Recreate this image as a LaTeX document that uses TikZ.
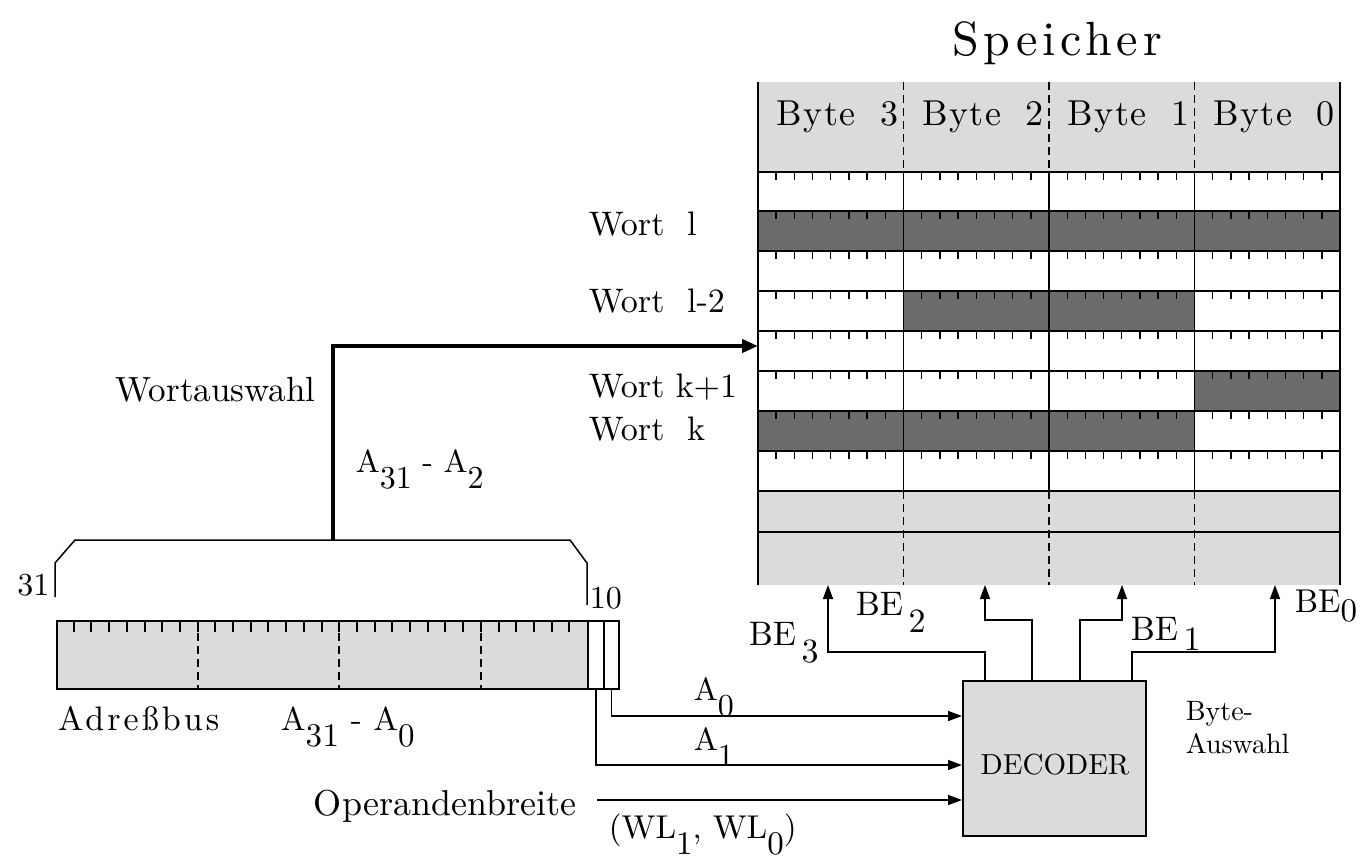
\documentclass[tikz,border=0pt]{standalone}
\usepackage{fontspec}
\setmainfont{lmroman10-regular.otf}
\usetikzlibrary{arrows.meta,calc}
\definecolor{lightdot}{gray}{0.86}
\definecolor{darkdot}{gray}{0.42}
\newcommand\lo[1]{\raisebox{-0.5em}{#1}}
\tikzset{
  lbl/.style={inner sep=0pt, font=\fontsize{34}{38}\selectfont},
  mid/.style={inner sep=0pt, font=\fontsize{32}{38}\selectfont},
  small/.style={inner sep=0pt, font=\fontsize{28}{32}\selectfont},
  conn/.style={line width=1.6pt, -{Triangle[length=14pt,width=10pt]}},
  thickconn/.style={line width=4pt, -{Triangle[length=16pt,width=13pt]}},
  bittick/.style={line width=1.4pt},
  dashdiv/.style={line width=1.4pt, dash pattern=on 8pt off 5pt},
  boxed/.style={draw, line width=1.8pt, fill=lightdot, inner sep=0pt, anchor=north west}
}
\begin{document}
\begin{tikzpicture}[x=1pt,y=-1pt,line width=1.5pt]
\useasboundingbox (0,0) rectangle (1364,860);

% ---------------- Speicher (memory) ----------------
\node[inner sep=0pt, anchor=base, font=\fontsize{48}{52}\selectfont\addfontfeatures{LetterSpace=10}] (title) at (1057,55) {Speicher};
\node[inner sep=0pt, minimum width=582pt, minimum height=503pt, anchor=north west] (mem) at (758,82) {};

\fill[lightdot] (758,82) rectangle (1340,172);
\fill[lightdot] (758,491) rectangle (1340,585);
\fill[darkdot] (758,211) rectangle (1340,251);
\fill[darkdot] (903.5,291) rectangle (1194.5,331);
\fill[darkdot] (1194.5,371) rectangle (1340,411);
\fill[darkdot] (758,411) rectangle (1194.5,451);

\foreach \y in {172,211,251,291,331,371,411,451,491,532}
  \draw (758,\y) -- (1340,\y);
\draw (758,82) -- (758,585);
\draw (1340,82) -- (1340,585);
\foreach \x in {903.5,1049,1194.5} {
  \draw (\x,172) -- (\x,491);
  \draw[dashdiv] (\x,82) -- (\x,172);
  \draw[dashdiv] (\x,491) -- (\x,585);
}
\foreach \y in {172,211,251,291,331,371,411,451}
  \foreach \c in {0,...,3}
    \foreach \k in {1,...,7}
      \draw[bittick] (758+\c*145.5+\k*18.1875,\y) -- ++(0,8);

\foreach \n [count=\i from 0] in {3,2,1,0} {
  \node[lbl, anchor=base west, font=\fontsize{36}{40}\selectfont\addfontfeatures{LetterSpace=4}] (hb\n) at (758+\i*145.5+18,125) {Byte};
  \node[lbl, anchor=base east, font=\fontsize{36}{40}\selectfont] (hn\n) at (758+\i*145.5+141,125) {\n};
}

\node[lbl, anchor=base west] (wl) at (588,235) {Wort\ \ l};
\node[lbl, anchor=base west] (wl2) at (588,312) {Wort\ \ l-2};
\node[lbl, anchor=base west] (wk1) at (588,397) {Wort k+1};
\node[lbl, anchor=base west] (wk) at (588,440) {Wort\ \ k};

% ---------------- word select ----------------
\node[lbl, anchor=base west, font=\fontsize{35}{38}\selectfont] (wsel) at (115,401) {Wortauswahl};
\node[mid, anchor=base west] (a312) at (355,472) {A\lo{31} - A\lo{2}};
\coordinate (brtop) at (333,540);
\coordinate (wtarget) at (758,346);
\draw[thickconn] (brtop) |- (wtarget);

% ---------------- address bus ----------------
\draw (55,597) -- (55,563) -- (75,540) -- (570,540) -- (587,563) -- (587,605);
\node[mid, anchor=base east] (n31) at (50,595) {31};
\node[mid, anchor=base west] (n10) at (589,608) {10};

\node[boxed, minimum width=531pt, minimum height=68pt] (bus) at (56,620) {};
\node[draw, line width=1.6pt, fill=white, inner sep=0pt, anchor=north west, minimum width=16pt, minimum height=68pt] (b1) at (587,620) {};
\node[draw, line width=1.6pt, fill=white, inner sep=0pt, anchor=north west, minimum width=15pt, minimum height=68pt] (b0) at (603,620) {};
\foreach \k in {1,...,29} {
  \draw[line width=2pt] (56+\k*17.7,620) -- ++(0,12);
}
\foreach \k in {8,16,24}
  \draw[dashdiv,line width=2pt] (56+\k*17.7,620) -- (56+\k*17.7,688);

\node[lbl, anchor=base west, font=\fontsize{34}{38}\selectfont\addfontfeatures{LetterSpace=9}] (abus) at (57,730) {Adreßbus};
\node[lbl, anchor=base west, font=\fontsize{33}{38}\selectfont\addfontfeatures{LetterSpace=2}] (abus2) at (280,730) {A\lo{31} - A\lo{0}};

% ---------------- decoder ----------------
\node[boxed, minimum width=183pt, minimum height=155pt] (dec) at (962,680) {};
\node[lbl, font=\fontsize{29}{34}\selectfont] (dectxt) at (1055,765) {DECODER};
\node[small, anchor=base west] (bsel1) at (1185,720) {Byte-};
\node[small, anchor=base west] (bsel2) at (1185,753) {Auswahl};

\draw[conn] (b0.south) |- ($(dec.north west)+(0,36)$);
\draw[conn] (b1.south) |- ($(dec.north west)+(0,85)$);
\coordinate (opin) at (597,800);
\draw[conn] (opin) -- (opin -| dec.west);

\node[mid, anchor=base west] (la0) at (693,700) {A\lo{0}};
\node[mid, anchor=base west] (la1) at (693,750) {A\lo{1}};
\node[lbl, anchor=base east, font=\fontsize{36}{40}\selectfont] (opb) at (577,815) {Operandenbreite};
\node[lbl, anchor=base west, font=\fontsize{33}{38}\selectfont] (wlx) at (608,838) {(WL\lo{1}, WL\lo{0})};

% ---------------- byte enables ----------------
\coordinate (be3t) at (828,585);
\coordinate (be2t) at (985,585);
\coordinate (be1t) at (1122,585);
\coordinate (be0t) at (1275,585);
\draw[conn] ($(dec.north west)+(23,0)$) |- ($(be3t)+(0,67)$) -- (be3t);
\draw[conn] ($(dec.north west)+(70,0)$) |- ($(be2t)+(0,35)$) -- (be2t);
\draw[conn] ($(dec.north west)+(118,0)$) |- ($(be1t)+(0,35)$) -- (be1t);
\draw[conn] ($(dec.north west)+(170,0)$) |- ($(be0t)+(0,67)$) -- (be0t);

\node[lbl, anchor=base west] (lbe3) at (748,645) {BE\,\lo{3}};
\node[lbl, anchor=base west] (lbe2) at (855,615) {BE\,\lo{2}};
\node[lbl, anchor=base west] (lbe1) at (1130,640) {BE\,\raisebox{-0.3em}{1}};
\node[lbl, anchor=base west, font=\fontsize{33}{38}\selectfont] (lbe0) at (1294,612) {BE\raisebox{-0.3em}{0}};
\end{tikzpicture}
\end{document}
